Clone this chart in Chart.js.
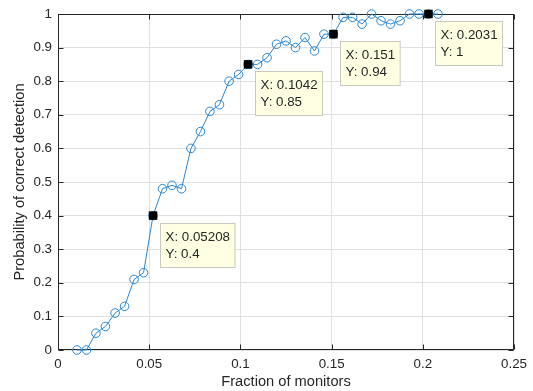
<!DOCTYPE html>
<html><head><meta charset="utf-8">
<script src="https://cdn.jsdelivr.net/npm/chart.js@4/dist/chart.umd.min.js"></script>
<style>html,body{margin:0;padding:0;background:#fff;}#wrap{width:533px;height:391px;position:relative;}</style>
</head><body><div id="wrap"><canvas id="c" width="533" height="391"></canvas></div>
<script>
const fractions = [0.0104,0.0156,0.0208,0.0260,0.0313,0.0365,0.0417,0.0469,0.0521,0.0573,
  0.0625,0.0677,0.0729,0.0781,0.0833,0.0885,0.0938,0.0990,0.1042,0.1094,
  0.1146,0.1198,0.1250,0.1302,0.1354,0.1406,0.1458,0.1510,0.1563,0.1615,
  0.1667,0.1719,0.1771,0.1823,0.1875,0.1927,0.1979,0.2031,0.2083];
const probabilities = [0,0,0.05,0.07,0.11,0.13,0.21,0.23,0.4,0.48,
  0.49,0.48,0.6,0.65,0.71,0.73,0.8,0.82,0.85,0.85,
  0.87,0.91,0.92,0.9,0.93,0.89,0.94,0.94,0.99,0.99,
  0.97,1,0.98,0.97,0.98,1,1,1,1];
const xTickLabels = ['0','0.05','0.1','0.15','0.2','0.25'];
const yTickLabels = ['0','0.1','0.2','0.3','0.4','0.5','0.6','0.7','0.8','0.9','1'];
const tipIndices = [8,18,27,37];
const tipXLabels = ['0.05208','0.1042','0.151','0.2031'];
const tipYLabels = ['0.4','0.85','0.94','1'];
const xTitle = 'Fraction of monitors';
const yTitle = 'Probability of correct detection';

const FONT = '"Liberation Sans", Arial, Helvetica, sans-serif';
const AX = '#262626';
const BLUE = '#2a86d1';

const framePlugin = {
  id: 'frame',
  beforeDatasetsDraw(chart) {
    const {ctx, chartArea: a, scales} = chart;
    const L = Math.round(a.left) + 0.5, R = Math.round(a.right) - 0.5;
    const T = Math.round(a.top) + 0.5, B = Math.round(a.bottom) - 0.5;
    ctx.save();
    ctx.strokeStyle = AX; ctx.lineWidth = 1;
    ctx.strokeRect(L, T, R - L, B - T);
    const tl = 5;
    ctx.beginPath();
    scales.x.ticks.forEach(t => {
      const px = Math.round(scales.x.getPixelForValue(t.value)) + 0.5;
      ctx.moveTo(px, B); ctx.lineTo(px, B - tl);
      ctx.moveTo(px, T); ctx.lineTo(px, T + tl);
    });
    scales.y.ticks.forEach(t => {
      const py = Math.round(scales.y.getPixelForValue(t.value)) + 0.5;
      ctx.moveTo(L, py); ctx.lineTo(L + tl, py);
      ctx.moveTo(R, py); ctx.lineTo(R - tl, py);
    });
    ctx.stroke();
    // axis titles
    ctx.fillStyle = AX;
    ctx.font = '14.67px ' + FONT;
    ctx.textAlign = 'center'; ctx.textBaseline = 'middle';
    ctx.fillText(xTitle, (a.left + a.right) / 2, 382);
    ctx.translate(20, (a.top + a.bottom) / 2);
    ctx.rotate(-Math.PI / 2);
    ctx.fillText(yTitle, 0, 0);
    ctx.restore();
  },
  afterDatasetsDraw(chart) {
    const {ctx, scales} = chart;
    ctx.save();
    ctx.font = '13.33px ' + FONT;
    tipIndices.forEach((idx, i) => {
      const px = scales.x.getPixelForValue(fractions[idx]);
      const py = scales.y.getPixelForValue(probabilities[idx]);
      const l1 = 'X: ' + tipXLabels[i], l2 = 'Y: ' + tipYLabels[i];
      const w = Math.max(ctx.measureText(l1).width, ctx.measureText(l2).width) + 10;
      const h = 44;
      const bx = Math.round(px + 7) + 0.5, by = Math.round(py + 7) + 0.5;
      ctx.fillStyle = '#ffffe3';
      ctx.fillRect(bx, by, w, h);
      ctx.strokeStyle = '#c9c9c0'; ctx.lineWidth = 1;
      ctx.strokeRect(bx, by, w, h);
      ctx.fillStyle = AX;
      ctx.textAlign = 'left'; ctx.textBaseline = 'middle';
      ctx.fillText(l1, bx + 5, by + 14);
      ctx.fillText(l2, bx + 5, by + 30.5);
    });
    ctx.restore();
  }
};

new Chart(document.getElementById('c'), {
  type: 'scatter',
  data: {
    datasets: [
      {
        data: tipIndices.map(i => ({x: fractions[i], y: probabilities[i]})),
        showLine: false, pointStyle: 'rect', pointRadius: 6, pointHoverRadius: 6,
        backgroundColor: '#000', borderColor: '#000', borderWidth: 0, clip: false, order: 0
      },
      {
        data: fractions.map((x, i) => ({x: x, y: probabilities[i]})),
        showLine: true, borderColor: BLUE, borderWidth: 1, tension: 0,
        pointStyle: 'circle', pointRadius: 4.3, pointHoverRadius: 4.3,
        pointBackgroundColor: 'rgba(0,0,0,0)', pointBorderColor: BLUE, pointBorderWidth: 1,
        clip: false, order: 1
      }
    ]
  },
  options: {
    responsive: false, animation: false, devicePixelRatio: 1,
    layout: {padding: {left: 0, right: 18, top: 14, bottom: 0}},
    plugins: {legend: {display: false}, tooltip: {enabled: false}},
    events: [],
    scales: {
      x: {
        type: 'linear', min: 0, max: 0.25,
        afterFit: s => { s.height = 41; },
        afterBuildTicks: s => { s.ticks = xTickLabels.map(v => ({value: parseFloat(v)})); },
        ticks: {callback: (v, i) => xTickLabels[i], color: AX, font: {family: FONT, size: 13.33}, padding: 6, maxRotation: 0, autoSkip: false},
        grid: {color: '#e0e0e0', drawTicks: false},
        border: {display: false}
      },
      y: {
        type: 'linear', min: 0, max: 1,
        afterFit: s => { s.width = 58; },
        afterBuildTicks: s => { s.ticks = yTickLabels.map(v => ({value: parseFloat(v)})); },
        ticks: {callback: (v, i) => yTickLabels[i], color: AX, font: {family: FONT, size: 13.33}, padding: 6, autoSkip: false},
        grid: {color: '#e0e0e0', drawTicks: false},
        border: {display: false}
      }
    }
  },
  plugins: [framePlugin]
});
</script>
</body></html>
